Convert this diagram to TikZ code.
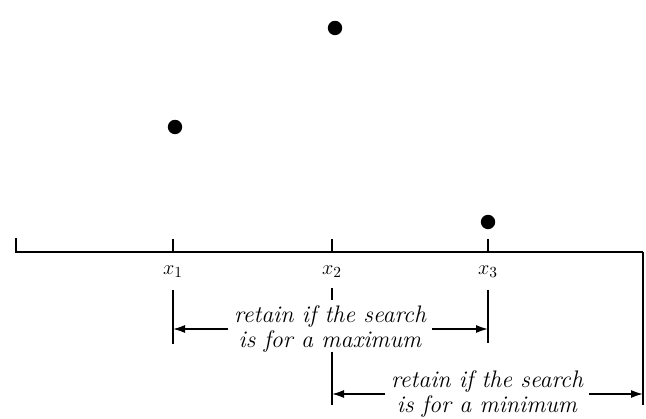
\documentclass[tikz,border=0pt]{standalone}
\usetikzlibrary{arrows.meta}
\tikzset{
  dot/.style={circle, fill=black, inner sep=0pt, minimum size=0.36cm},
  axisline/.style={line width=1.5pt},
  bracket/.style={line width=1.1pt},
  pointer/.style={-{Latex[length=3mm,width=2mm]}, line width=1.1pt},
  note/.style={font=\fontsize{17}{18}\selectfont\itshape, align=center, inner sep=4pt},
  ptlabel/.style={font=\fontsize{15}{16}\selectfont}
}

\begin{document}
\begin{tikzpicture}[x=0.025cm, y=-0.025cm]
  \useasboundingbox (0,0) rectangle (646,419);
  % the axis
  \coordinate (a0) at (16,252);
  \coordinate (a4) at (643,252);
  \coordinate (a0up) at (16,238);
  \draw[axisline] (a0up) -- (a0) -- (a4);
  \draw[bracket] (173,239) -- (173,252);
  \draw[bracket] (332,239) -- (332,252);
  \draw[bracket] (488,239) -- (488,252);
  % the three points
  \node[dot] (p1) at (175,127) {};
  \node[dot] (p2) at (335,28) {};
  \node[dot] (p3) at (488,222) {};
  \node[ptlabel] (x1) at (173,272) {$x_1$};
  \node[ptlabel] (x2) at (332,272) {$x_2$};
  \node[ptlabel] (x3) at (488,272) {$x_3$};
  \draw[bracket] (332,288) -- (332,300);
  % interval kept for a maximum
  \coordinate (mxl) at (173,290);
  \coordinate (mxlb) at (173,344);
  \coordinate (mxr) at (488,290);
  \coordinate (mxrb) at (488,343);
  \draw[bracket] (mxl) -- (mxlb);
  \draw[bracket] (mxr) -- (mxrb);
  \node[note] (mx) at (330,329) {retain if the search\\is for a maximum};
  \draw[pointer] (mx.west) -- (mx.west -| mxl);
  \draw[pointer] (mx.east) -- (mx.east -| mxr);
  % interval kept for a minimum
  \coordinate (mnl) at (332,352);
  \coordinate (mnlb) at (332,405);
  \coordinate (mnrb) at (643,405);
  \draw[bracket] (mnl) -- (mnlb);
  \draw[bracket] (a4) -- (mnrb);
  \node[note] (mn) at (487,394) {retain if the search\\is for a minimum};
  \draw[pointer] (mn.west) -- (mn.west -| mnl);
  \draw[pointer] (mn.east) -- (mn.east -| a4);
\end{tikzpicture}
\end{document}
